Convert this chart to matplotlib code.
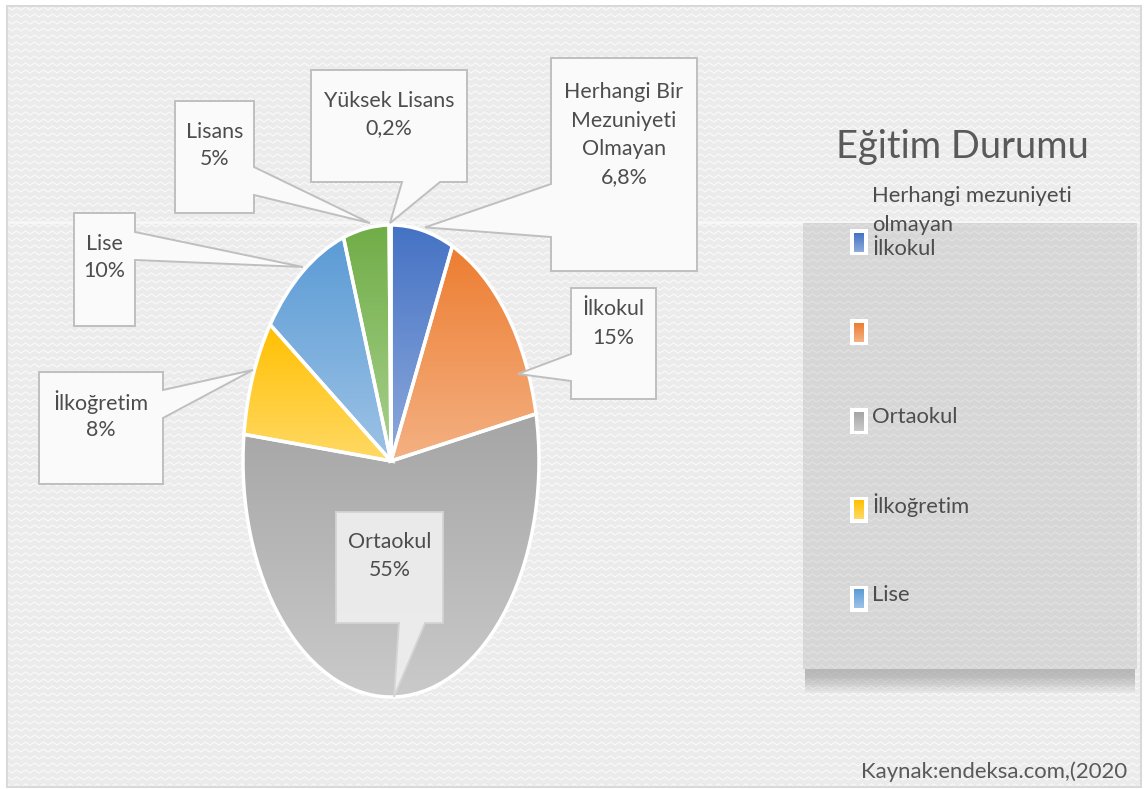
import numpy as np
import matplotlib
matplotlib.use("Agg")
import matplotlib.pyplot as plt
from matplotlib.patches import Polygon, Rectangle
from matplotlib.colors import to_rgb

# ---------------- data ----------------
categories = ["Herhangi Bir Mezuniyeti Olmayan", "İlkokul", "Ortaokul",
              "İlkoğretim", "Lise", "Lisans", "Yüksek Lisans"]
label_names = ["Herhangi Bir\nMezuniyeti\nOlmayan", "İlkokul", "Ortaokul",
               "İlkoğretim", "Lise", "Lisans", "Yüksek Lisans"]
values = [6.8, 15, 55, 8, 10, 5, 0.2]
pct_labels = ["6,8%", "15%", "55%", "8%", "10%", "5%", "0,2%"]
legend_names = ["Herhangi mezuniyeti\nolmayan", "İlkokul", "Ortaokul", "İlkoğretim", "Lise"]
title = "Eğitim Durumu"
source = "Kaynak:endeksa.com,(2020"

top_colors = ["#4472c4", "#ed7d31", "#a5a5a5", "#ffc000", "#5b9bd5", "#70ad47", "#264478"]
bot_colors = ["#8faadc", "#f4b183", "#cacaca", "#ffd966", "#9dc3e6", "#a9d18e", "#4a6fa5"]

W, H = 1144, 789
FAM = ["Lato", "DejaVu Sans"]
TXT = "#4d4d4d"

fig = plt.figure(figsize=(W / 100, H / 100), dpi=100)
fig.patch.set_facecolor("white")


def texture(h, w, base, light, period=7, hp=9, amp=3.0):
    yy, xx = np.mgrid[0:h, 0:w]
    tri = np.abs(((xx % hp) / hp) * 2 - 1) * amp
    ph = (yy + tri) % period
    v = np.clip(1 - np.abs(ph - period / 2) / 1.3, 0, 1)
    b = np.array(to_rgb(base))
    l = np.array(to_rgb(light))
    return b[None, None, :] + (l - b)[None, None, :] * v[..., None]


# ---------------- background axes ----------------
bg = fig.add_axes([0, 0, 1, 1], zorder=0)
bg.set_xlim(0, W)
bg.set_ylim(H, 0)
bg.axis("off")
fx0, fy0, fx1, fy1 = 7, 6, 1141, 787
bg.imshow(texture(fy1 - fy0, fx1 - fx0, "#ebebeb", "#fafafa"),
          extent=[fx0, fx1, fy1, fy0], aspect="auto", interpolation="bilinear", zorder=0)
bg.add_patch(Rectangle((fx0, 221), fx1 - fx0, 2.5, facecolor="white", alpha=0.6,
                       edgecolor="none", zorder=1))
bg.add_patch(Rectangle((fx0, fy0), fx1 - fx0, fy1 - fy0, facecolor="none",
                       edgecolor="#d9d9d9", lw=1.5, zorder=2))

# legend box with shadow
lx0, ly0, lx1, ly1 = 803, 223, 1137, 669
for i in range(10):
    bg.add_patch(Rectangle((lx0 + 2, ly0 + 4), lx1 - lx0 - 4, (ly1 - ly0) + 2 + i * 2,
                           facecolor="#808080", alpha=0.06, edgecolor="none", zorder=3))
bg.imshow(texture(ly1 - ly0, lx1 - lx0, "#d6d6d6", "#e2e2e2"),
          extent=[lx0, lx1, ly1, ly0], aspect="auto", interpolation="bilinear", zorder=4)
bg.set_xlim(0, W)
bg.set_ylim(H, 0)

# ---------------- pie axes ----------------
cx, cy, ra, rb = 391, 461, 148, 236
pie_ax = fig.add_axes([(cx - ra) / W, (H - cy - rb) / H, 2 * ra / W, 2 * rb / H], zorder=1)
wedges, _ = pie_ax.pie(values, startangle=90, counterclock=False, radius=1.0,
                       colors=top_colors,
                       wedgeprops=dict(edgecolor="white", linewidth=2.5))
for w, ct, cb in zip(wedges, top_colors, bot_colors):
    ext = w.get_path().get_extents()
    grad = np.linspace(0, 1, 256)[:, None, None]
    img = np.array(to_rgb(ct))[None, None, :] * (1 - grad) + np.array(to_rgb(cb))[None, None, :] * grad
    im = pie_ax.imshow(img, extent=[ext.x0, ext.x1, ext.y0, ext.y1], origin="upper",
                       aspect="auto", zorder=1, interpolation="bilinear")
    im.set_clip_path(w)
    w.set_facecolor("none")
    w.set_zorder(2)
pie_ax.set_aspect("auto")
pie_ax.set_xlim(-1, 1)
pie_ax.set_ylim(-1, 1)
pie_ax.axis("off")

# ---------------- overlay axes ----------------
ov = fig.add_axes([0, 0, 1, 1], zorder=3)
ov.set_xlim(0, W)
ov.set_ylim(H, 0)
ov.axis("off")
ov.patch.set_alpha(0)

renderer = fig.canvas.get_renderer()


def fit_size(s, target, **kw):
    t = ov.text(0, 0, s, fontsize=10, family=FAM, **kw)
    wpx = t.get_window_extent(renderer).width
    t.remove()
    return 10 * target / wpx


lab_fs = fit_size("Yüksek Lisans", 130)
leg_fs = fit_size("Herhangi mezuniyeti", 200)
tit_fs = fit_size(title, 252)
src_fs = fit_size(source, 267)

# callout layout: box (x0,y0,x1,y1), tail side, tail base a,b, tip (pie coords), first line y, spacing
callouts = [
    ((551, 58, 697, 271), "left", 184, 237, (0.23, 0.99), 90, 28.5),
    ((571, 288, 656, 399), "left", 354, 381, (0.858, 0.369), 307, 29),
    ((336, 512, 443, 623), "bottom", 399, 425, (0.02, -1.0), 540, 28),
    ((39, 372, 163, 484), "right", 390, 418, (-0.932, 0.386), 400, 28),
    ((74, 213, 135, 326), "right", 232, 260, (-0.595, 0.822), 242, 27),
    ((175, 101, 254, 213), "right", 167, 195, (-0.142, 1.008), 130, 27),
    ((311, 70, 467, 182), "bottom", 402, 440, (-0.007, 1.008), 99, 27),
]

for i, (box, side, a, b, tip_uv, ly, sp) in enumerate(callouts):
    x0, y0, x1, y1 = box
    d = pie_ax.transData.transform(tip_uv)
    tip = (d[0], H - d[1])
    if side == "left":
        verts = [(x0, y0), (x1, y0), (x1, y1), (x0, y1), (x0, b), tip, (x0, a)]
    elif side == "right":
        verts = [(x0, y0), (x1, y0), (x1, a), tip, (x1, b), (x1, y1), (x0, y1)]
    else:
        verts = [(x0, y0), (x1, y0), (x1, y1), (b, y1), tip, (a, y1), (x0, y1)]
    if categories[i] == "Ortaokul":
        fc, ec, al = "#efefef", "#d4d4d4", 0.92
    else:
        fc, ec, al = "#fafafa", "#bfbfbf", 1.0
    ov.add_patch(Polygon(verts, closed=True, facecolor=fc, edgecolor=ec, lw=1.4,
                         alpha=al, joinstyle="miter", zorder=2))
    lines = label_names[i].split("\n") + [pct_labels[i]]
    xc = (x0 + x1) / 2
    for k, s in enumerate(lines):
        ov.text(xc, ly + k * sp, s, ha="center", va="center_baseline", fontsize=lab_fs,
                family=FAM, color=TXT, zorder=3)

# legend entries
marker_y = [242, 332, 421, 510, 599]
legend_text_y = [194, 247, 415, 503, 593]
leg_colors_idx = [0, 1, 2, 3, 4]
mx = 859
for j, (my, ci) in enumerate(zip(marker_y, leg_colors_idx)):
    ov.add_patch(Rectangle((mx - 9, my - 13), 18, 26, facecolor="white", edgecolor="none", zorder=2))
    grad = np.linspace(0, 1, 64)[:, None, None]
    img = np.array(to_rgb(top_colors[ci]))[None, None, :] * (1 - grad) + \
        np.array(to_rgb(bot_colors[ci]))[None, None, :] * grad
    ov.imshow(img, extent=[mx - 5, mx + 5, my + 9.5, my - 9.5], aspect="auto", zorder=3)
ov.text(872, 194, "Herhangi mezuniyeti", ha="left", va="center_baseline", fontsize=leg_fs,
        family=FAM, color=TXT, zorder=4)
ov.text(872, 223, "olmayan", ha="left", va="center_baseline", fontsize=leg_fs,
        family=FAM, color=TXT, zorder=4)
for name, ty in zip(legend_names[1:], legend_text_y[1:]):
    ov.text(872, ty, name, ha="left", va="center_baseline", fontsize=leg_fs,
            family=FAM, color=TXT, zorder=4)

ov.text(962, 143, title, ha="center", va="center_baseline", fontsize=tit_fs,
        family=FAM, color="#595959", zorder=4)
ov.text(1127, 770, source, ha="right", va="center_baseline", fontsize=src_fs,
        family=FAM, color="#595959", zorder=4)

ov.set_xlim(0, W)
ov.set_ylim(H, 0)
fig.savefig("out.png", dpi=100)
